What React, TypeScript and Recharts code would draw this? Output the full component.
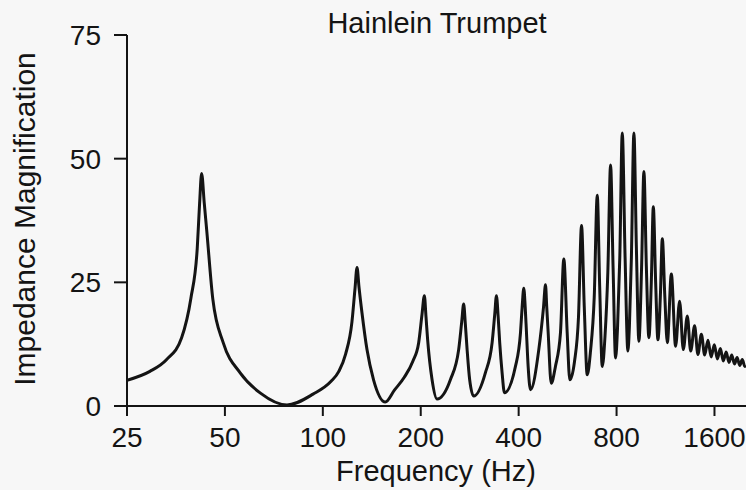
import React from "react";
import { LineChart, Line, XAxis, YAxis } from "recharts";

const freqHz = [
	25, 29.4, 33.1, 36.8, 39.3, 41.1, 41.8, 42.4, 43.2, 44.0, 45.9, 49.4, 55.7, 64.3, 77.6, 93.3,
	106, 112, 117.5, 122.9, 125.5, 127.4, 129.2, 131.9, 136.7, 143.2, 155.6,
	166, 178, 189, 197.1, 201.8, 205.2, 207.6, 210, 216.7, 224.5,
	246.7, 261.6, 267.3, 271, 274.3, 277.7, 282.8, 291,
	316, 331.5, 337.7, 341.8, 346, 349.8, 355.8, 361.7,
	391, 405.2, 410, 414.8, 419, 422.8, 427.8, 434.9,
	461.3, 477, 483.7, 488, 493, 503.7,
	519, 537.8, 550.7, 564, 574.6,
	594, 611, 624.3, 636.5, 650,
	665, 683, 697.8, 710, 722.9,
	737, 752, 766.8, 780.5, 794.4,
	805.7, 818.5, 833, 849.8, 866.8,
	876, 888.5, 904.5, 920.5, 937,
	955, 970.8, 988, 1005.7,
	1023, 1037.7, 1055, 1072,
	1090.5, 1106, 1126, 1146,
	1179, 1215, 1250, 1283, 1320, 1352, 1390, 1423, 1458, 1493,
	1528, 1563, 1598, 1633, 1668, 1703, 1738, 1773, 1808, 1843, 1878, 1913, 1948, 1983, 2000,
];

// impedance magnification at each frequency
const impedance = [
	5.2, 7.0, 9.4, 13.8, 21.8, 31.8, 41, 47.0, 41, 35.2, 21.6, 12.8, 6.7, 2.6, 0.2, 2.4,
	5.0, 7.0, 10.5, 17.0, 23.5, 28.0, 24.0, 18.9, 11.4, 5.3, 0.8,
	3.2, 5.8, 9.0, 12.8, 18.5, 22.3, 18.0, 13.4, 5.3, 1.4,
	5.3, 11.4, 17.0, 20.6, 16.5, 11.4, 5.3, 2.0,
	6.7, 12.8, 18.5, 22.3, 18.0, 12.8, 6.7, 2.7,
	8.0, 14.8, 20.0, 23.8, 20.0, 14.8, 8.0, 3.3,
	11.4, 20.0, 24.5, 20.0, 14.8, 4.6,
	8.0, 14.8, 29.7, 14.8, 5.3,
	9.0, 18.0, 36.5, 20.0, 6.3,
	11.0, 22.0, 42.6, 24.0, 8.0,
	14.0, 27.0, 48.7, 28.0, 9.7,
	16.0, 30.0, 55.2, 30.0, 11.1,
	16.0, 30.0, 55.2, 32.0, 13.1,
	28.0, 47.4, 28.0, 13.8,
	25.0, 40.3, 25.0, 13.4,
	22.0, 33.8, 22.0, 12.8,
	26.7, 12.1, 21.2, 11.4, 18.2, 11.1, 16.2, 10.4, 14.5, 10.3,
	13.3, 9.9, 12.4, 9.5, 11.6, 9.1, 10.9, 8.8, 10.3, 8.5, 9.8, 8.2, 9.4, 8.0, 8.2,
];

const xTicks = [25, 50, 100, 200, 400, 800, 1600];
const yTicks = [0, 25, 50, 75];

const FONT = "'Liberation Sans', Arial, Helvetica, sans-serif";
const INK = "#141414";

const data = freqHz.map((f, i) => ({ f, v: impedance[i] }));

const YTitle = () => (
	<text
		x={24}
		y={219}
		transform="rotate(-90 24 219)"
		textAnchor="middle"
		dominantBaseline="central"
		fontFamily={FONT}
		fontSize={30}
		fill={INK}
	>
		Impedance Magnification
	</text>
);

const XTitle = () => (
	<text x={436} y={481} textAnchor="middle" fontFamily={FONT} fontSize={29} fill={INK}>
		Frequency (Hz)
	</text>
);

export default function App() {
	return (
		<div style={{ position: "absolute", left: 0, top: 0, width: 746, height: 490, background: "#f7f7f7" }}>
			<LineChart width={746} height={490} data={data} margin={{ top: 35, right: 0, bottom: 0, left: 0 }}>
				<XAxis
					dataKey="f"
					type="number"
					scale="log"
					domain={[25, 2000]}
					allowDataOverflow
					ticks={xTicks}
					interval={0}
					height={84}
					tickSize={10}
					tickMargin={11}
					stroke={INK}
					strokeWidth={2}
					tick={{ fill: INK, fontSize: 28, fontFamily: FONT }}
					label={<XTitle />}
				/>
				<YAxis
					type="number"
					domain={[0, 75]}
					ticks={yTicks}
					interval={0}
					width={127}
					tickSize={13}
					tickMargin={13}
					stroke={INK}
					strokeWidth={2}
					tick={{ fill: INK, fontSize: 28, fontFamily: FONT }}
					label={<YTitle />}
				/>
				<Line
					type="monotone"
					dataKey="v"
					stroke={INK}
					strokeWidth={3}
					dot={false}
					isAnimationActive={false}
				/>
			</LineChart>
			<svg width={746} height={50} style={{ position: "absolute", left: 0, top: 0 }}>
				<text x={437} y={33} textAnchor="middle" fontFamily={FONT} fontSize={29} fill={INK}>
					Hainlein Trumpet
				</text>
			</svg>
		</div>
	);
}
